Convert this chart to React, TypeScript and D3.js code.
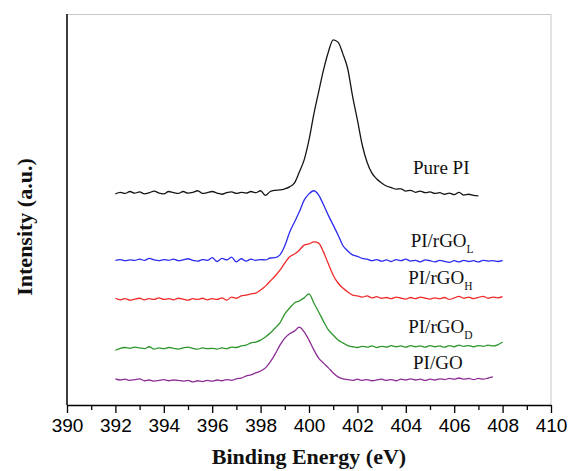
import * as d3 from 'd3'
import { useEffect, useRef } from 'react'

// binding energy grid of every spectrum starts at 392 eV, 0.2 eV per point
const startEnergy = 392
const energyStep = 0.2

const purePI = [
  54.0, 54.4, 54.1, 54.6, 54.2, 54.5, 54.0, 54.3, 54.7, 54.2,
  54.0, 54.6, 54.3, 54.1, 54.6, 54.2, 54.4, 54.8, 54.1, 54.3,
  54.6, 54.2, 53.9, 54.3, 54.5, 54.1, 54.4, 54.2, 54.6, 54.3,
  54.8, 53.6, 54.6, 54.9, 55.0, 55.3, 55.8, 56.8, 59.6, 62.7,
  67.8, 74.4, 80.1, 85.7, 90.3, 93.4, 92.8, 89.8, 86.0, 79.0,
  72.9, 66.5, 62.1, 59.3, 57.8, 56.8, 56.0, 55.6, 55.2, 55.3,
  54.7, 54.9, 54.4, 54.7, 54.3, 54.5, 54.1, 54.3, 53.9, 54.2,
  53.8, 54.4, 53.7, 53.9, 53.6, 53.5
]

const rGOL = [
  37.0, 37.2, 36.9, 37.1, 37.0, 37.3, 37.0, 37.5, 37.1, 36.9,
  37.2, 37.0, 37.3, 36.9, 37.1, 37.4, 37.0, 36.8, 37.2, 37.0,
  37.7, 36.7, 37.5, 37.1, 37.8, 36.6, 37.4, 36.8, 37.3, 37.0,
  37.2, 37.1, 37.6, 37.7, 38.4, 40.7, 44.2, 46.8, 49.4, 52.4,
  54.0, 54.8, 53.7, 51.2, 48.5, 46.0, 43.5, 40.8, 39.4, 38.4,
  38.0, 37.5, 37.3, 36.9, 37.2, 36.8, 37.1, 36.7, 37.2, 36.9,
  37.3, 36.8, 37.0, 36.6, 37.1, 36.9, 36.6, 37.0, 36.7, 36.5,
  36.9, 36.6, 37.0, 36.7, 36.9, 36.6, 37.0, 36.8, 36.9, 36.7,
  37.0
]

const rGOH = [
  27.3, 26.9, 27.2, 26.8, 27.1, 27.3, 26.9, 27.2, 27.0, 27.4,
  27.0, 27.2, 26.9, 27.3, 27.1, 26.8, 27.2, 27.0, 27.3, 26.9,
  27.2, 27.0, 27.4, 26.8, 27.6, 27.3, 27.9, 28.1, 28.4, 28.6,
  29.4, 30.4, 31.7, 33.0, 34.5, 36.3, 37.9, 38.6, 39.6, 40.9,
  41.2, 41.7, 41.4, 39.1, 36.1, 33.2, 31.2, 29.9, 28.9, 28.1,
  27.9, 27.6, 27.9, 27.4, 27.7, 27.3, 27.5, 27.2, 27.6, 27.3,
  27.1, 27.5, 27.2, 27.6, 27.3, 27.1, 27.4, 27.2, 27.5, 27.0,
  27.4, 27.8, 27.3, 27.6, 27.2, 27.5, 27.8, 27.3, 27.6, 27.4,
  27.7
]

const rGOD = [
  14.0, 14.5, 14.7, 14.5, 14.8, 14.6, 14.4, 14.9, 14.3, 14.6,
  14.4, 14.7, 14.5, 14.3, 14.6, 14.8, 14.5, 14.3, 14.6, 14.4,
  14.5, 14.3, 14.6, 14.4, 14.8, 14.7, 15.1, 15.3, 15.9, 16.1,
  16.6, 17.4, 18.4, 19.7, 21.0, 23.3, 24.8, 26.1, 26.6, 27.4,
  28.4, 26.1, 23.8, 21.4, 19.2, 17.9, 16.6, 15.9, 15.2, 14.9,
  14.7, 15.0, 14.8, 15.1, 14.7, 15.0, 14.8, 15.2, 14.9, 15.1,
  14.8, 15.2, 14.9, 15.1, 14.8, 15.2, 14.9, 15.1, 14.8, 15.2,
  14.9, 15.3, 15.0, 15.2, 14.9, 15.2, 15.0, 15.3, 15.1, 15.4,
  16.1
]

const piGO = [
  6.7, 6.4, 6.6, 6.3, 6.5, 6.7, 6.2, 6.4, 6.1, 6.3,
  6.5, 6.2, 6.4, 6.3, 6.1, 6.3, 5.9, 6.2, 6.0, 6.3,
  6.1, 6.4, 6.2, 6.5, 6.3, 6.7, 6.9, 7.4, 7.7, 8.2,
  8.7, 9.5, 11.0, 13.0, 15.3, 17.1, 18.2, 18.9, 19.9, 18.7,
  16.6, 14.1, 12.0, 10.7, 9.5, 8.2, 7.2, 6.7, 6.5, 6.3,
  6.6, 6.3, 6.5, 6.2, 6.4, 6.6, 6.3, 6.5, 6.2, 6.6,
  6.4, 6.7, 6.4, 6.6, 6.3, 6.6, 6.4, 6.7, 6.5, 6.8,
  6.6, 6.9, 6.6, 6.8, 6.5, 6.8, 6.6, 6.9, 7.2
]

const seriesNames = ['Pure PI', 'PI/rGO', 'PI/rGO', 'PI/rGO', 'PI/GO']
const seriesSubs = ['', 'L', 'H', 'D', '']
const seriesValues = [purePI, rGOL, rGOH, rGOD, piGO]
const seriesColors = ['#151515', '#2b2bef', '#f02a2a', '#2e962e', '#8c2c94']
// label anchor (energy, intensity) for each curve name
const labelEnergy = [404.3, 404.2, 404.1, 404.1, 404.3]
const labelIntensity = [59.1, 40.4, 31.0, 18.4, 9.2]

const xTicks = [390, 392, 394, 396, 398, 400, 402, 404, 406, 408, 410]
const xMinorTicks = [391, 393, 395, 397, 399, 401, 403, 405, 407, 409]

export default function App() {
  const ref = useRef<SVGSVGElement>(null)
  const width = 568
  const height = 471

  useEffect(() => {
    const margin = { top: 14, right: 17, bottom: 66, left: 67 }
    const w = width - margin.left - margin.right
    const h = height - margin.top - margin.bottom

    const svg = d3.select(ref.current)
    svg.selectAll('*').remove()

    const g = svg.append('g')
      .attr('transform', `translate(${margin.left},${margin.top})`)

    const x = d3.scaleLinear().domain([390, 410]).range([0, w])
    const y = d3.scaleLinear().domain([0, 100]).range([h, 0])

    // frame: light top and right borders
    g.append('path')
      .attr('d', `M0,0.5H${w}V${h}`)
      .attr('fill', 'none')
      .attr('stroke', '#c8c8c8')
      .attr('stroke-width', 1)

    // minor ticks
    g.append('g')
      .attr('transform', `translate(0,${h})`)
      .call(d3.axisBottom(x).tickValues(xMinorTicks).tickSize(5).tickFormat(() => ''))
      .call(sel => sel.select('.domain').remove())
      .selectAll('line')
      .attr('stroke', '#000')
      .attr('stroke-width', 1.3)

    // major axis
    const xAxis = g.append('g')
      .attr('transform', `translate(0,${h})`)
      .call(d3.axisBottom(x).tickValues(xTicks).tickSize(8).tickSizeOuter(0).tickPadding(6).tickFormat(d3.format('d')))
    xAxis.select('.domain').attr('stroke', '#000').attr('stroke-width', 1.5)
    xAxis.selectAll('line').attr('stroke', '#000').attr('stroke-width', 1.3)
    xAxis.selectAll('text')
      .attr('font-family', 'Liberation Sans, Arial, sans-serif')
      .attr('font-size', 19)
      .attr('fill', '#000')

    // left axis line, no ticks
    g.append('line')
      .attr('x1', 0).attr('x2', 0)
      .attr('y1', 0).attr('y2', h)
      .attr('stroke', '#000')
      .attr('stroke-width', 1.5)

    const line = d3.line<number>()
      .x((d, i) => x(startEnergy + i * energyStep))
      .y(d => y(d))
      .curve(d3.curveMonotoneX)

    seriesValues.forEach((vals, k) => {
      g.append('path')
        .datum(vals)
        .attr('d', line)
        .attr('fill', 'none')
        .attr('stroke', seriesColors[k])
        .attr('stroke-width', 1.3)
        .attr('stroke-linejoin', 'round')
    })

    // curve labels
    seriesNames.forEach((name, k) => {
      const t = g.append('text')
        .attr('x', x(labelEnergy[k]))
        .attr('y', y(labelIntensity[k]))
        .attr('font-family', 'Liberation Serif, Times New Roman, serif')
        .attr('font-size', 19)
        .attr('fill', '#111')
        .text(name)
      if (seriesSubs[k]) {
        t.append('tspan')
          .attr('dy', 6)
          .attr('font-size', 11.5)
          .text(seriesSubs[k])
      }
    })

    // axis titles
    svg.append('text')
      .attr('x', margin.left + w / 2)
      .attr('y', 464)
      .attr('text-anchor', 'middle')
      .attr('font-family', 'Liberation Serif, Times New Roman, serif')
      .attr('font-weight', 'bold')
      .attr('font-size', 22)
      .attr('fill', '#111')
      .text('Binding Energy (eV)')

    svg.append('text')
      .attr('transform', `translate(32,227) rotate(-90)`)
      .attr('text-anchor', 'middle')
      .attr('font-family', 'Liberation Serif, Times New Roman, serif')
      .attr('font-weight', 'bold')
      .attr('font-size', 22)
      .attr('fill', '#111')
      .text('Intensity (a.u.)')
  }, [])

  return (
    <svg
      ref={ref}
      width={width}
      height={height}
      style={{ position: 'absolute', left: 0, top: 0, background: '#fff' }}
    />
  )
}
